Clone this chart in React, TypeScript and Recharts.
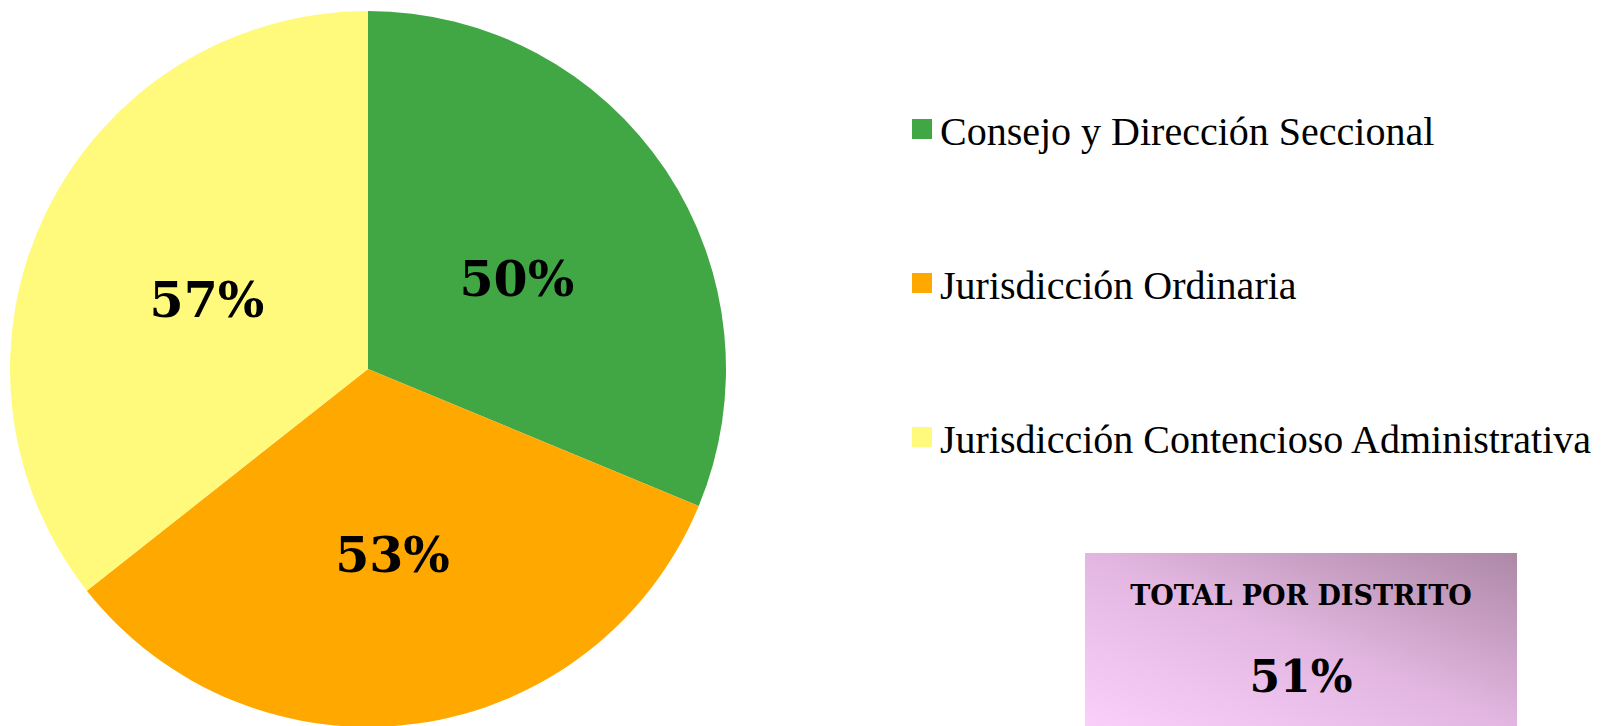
import React from "react";
import { PieChart, Pie, Cell } from "recharts";

const categories = [
  "Consejo y Dirección Seccional",
  "Jurisdicción Ordinaria",
  "Jurisdicción Contencioso Administrativa"
];
const values = [50, 53, 57];
const colors = ["#41A745", "#FFA800", "#FFFA7C"];

const totalTitle = "TOTAL POR DISTRITO";
const totalValue = 51;

const data = categories.map((name, i) => ({ name, value: values[i] }));

const RADIAN = Math.PI / 180;
const boldFont = "'DejaVu Serif', Georgia, serif";
const legendFont = "'Liberation Serif', 'Times New Roman', serif";

const renderLabel = (props: any) => {
  const { cx, cy, midAngle, outerRadius, value } = props;
  const r = outerRadius * 0.5;
  const x = cx + r * Math.cos(-midAngle * RADIAN);
  const y = cy + r * Math.sin(-midAngle * RADIAN);
  return (
    <text
      x={x}
      y={y}
      dy={9}
      textAnchor="middle"
      dominantBaseline="central"
      fontFamily={boldFont}
      fontWeight="bold"
      fontSize={49}
      fill="#000"
    >
      {value}%
    </text>
  );
};

// legend drawn as plain html so it doesn't eat into the pie's plot area
const PieLegend = () => (
  <div style={{ position: "absolute", left: 912, top: 109, width: 705 }}>
    {categories.map((name, i) => (
      <div
        key={name}
        style={{
          position: "relative",
          height: 154,
          fontFamily: legendFont,
          fontSize: 40,
          lineHeight: "46px",
          color: "#000",
          whiteSpace: "nowrap"
        }}
      >
        <span
          style={{
            position: "absolute",
            left: 0,
            top: 10,
            width: 20,
            height: 20,
            background: colors[i]
          }}
        />
        <span style={{ position: "absolute", left: 28, top: 0 }}>{name}</span>
      </div>
    ))}
  </div>
);

const App: React.FC = () => {
  return (
    <div
      style={{
        position: "absolute",
        left: 0,
        top: 0,
        width: 1617,
        height: 726,
        background: "#fff",
        overflow: "hidden"
      }}
    >
      <PieChart width={1617} height={726} margin={{ top: 0, right: 0, bottom: 0, left: 0 }}>
        <Pie
          data={data}
          dataKey="value"
          nameKey="name"
          cx={368}
          cy={369}
          outerRadius={358}
          startAngle={90}
          endAngle={-270}
          stroke="none"
          label={renderLabel}
          labelLine={false}
          isAnimationActive={false}
        >
          {data.map((d, i) => (
            <Cell key={d.name} fill={colors[i]} />
          ))}
        </Pie>
      </PieChart>
      <PieLegend />
      <div
        style={{
          position: "absolute",
          left: 1085,
          top: 553,
          width: 432,
          height: 173,
          background: "linear-gradient(to top right, #FAD0FA 0%, #E2B6E0 50%, #AD88A6 100%)",
          fontFamily: boldFont,
          fontWeight: "bold",
          color: "#000",
          textAlign: "center"
        }}
      >
        <div style={{ position: "absolute", left: 0, right: 0, top: 27, fontSize: 27, lineHeight: "32px" }}>
          {totalTitle}
        </div>
        <div style={{ position: "absolute", left: 0, right: 0, top: 98, fontSize: 44, lineHeight: "52px" }}>
          {totalValue}%
        </div>
      </div>
    </div>
  );
};

export default App;
